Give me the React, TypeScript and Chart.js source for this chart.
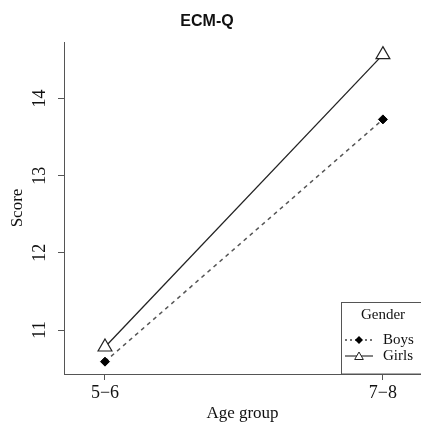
import React, { useEffect, useRef } from 'react';
import { Chart, registerables } from 'chart.js';

Chart.register(...registerables);

const categories = ['5−6', '7−8'];
const xPositions = [1, 2];
const boys = [10.59, 13.73];
const girls = [10.78, 14.57];
const yTicks = [11, 12, 13, 14];
const seriesNames = ['Boys', 'Girls'];
const titleText = 'ECM-Q';
const xTitle = 'Age group';
const yTitle = 'Score';
const legendTitle = 'Gender';

const SERIF = '"Liberation Serif", "Times New Roman", serif';
const SANS = '"Liberation Sans", Arial, sans-serif';

const titlePlugin = {
  id: 'rTitle',
  afterDraw(chart: any) {
    const ctx = chart.ctx;
    ctx.save();
    ctx.font = `bold 16px ${SANS}`;
    ctx.fillStyle = '#111';
    ctx.textAlign = 'center';
    ctx.textBaseline = 'middle';
    ctx.fillText(titleText, 207, 22);
    ctx.restore();
  },
};

function drawDiamond(ctx: CanvasRenderingContext2D, x: number, y: number, r: number) {
  ctx.beginPath();
  ctx.moveTo(x, y - r);
  ctx.lineTo(x + r, y);
  ctx.lineTo(x, y + r);
  ctx.lineTo(x - r, y);
  ctx.closePath();
  ctx.fillStyle = '#000';
  ctx.fill();
}

function drawTriangle(ctx: CanvasRenderingContext2D, x: number, y: number, r: number) {
  ctx.beginPath();
  for (let i = 0; i < 3; i++) {
    const a = (i * 2 * Math.PI) / 3;
    const px = x + Math.sin(a) * r;
    const py = y - Math.cos(a) * r;
    if (i === 0) ctx.moveTo(px, py);
    else ctx.lineTo(px, py);
  }
  ctx.closePath();
  ctx.fillStyle = '#fff';
  ctx.fill();
  ctx.strokeStyle = '#222';
  ctx.lineWidth = 1;
  ctx.stroke();
}

const legendPlugin = {
  id: 'rLegend',
  afterDraw(chart: any) {
    const ctx = chart.ctx;
    const { right, bottom } = chart.chartArea;
    const bx = 341.5;
    const by = 302.5;
    ctx.save();
    ctx.fillStyle = '#fff';
    ctx.fillRect(bx, by, right - bx + 5, bottom - by);
    ctx.strokeStyle = '#555';
    ctx.lineWidth = 1;
    ctx.strokeRect(bx, by, right - bx + 5, bottom - by);

    ctx.fillStyle = '#111';
    ctx.font = `15px ${SERIF}`;
    ctx.textAlign = 'center';
    ctx.textBaseline = 'middle';
    ctx.fillText(legendTitle, 383, 315);

    const rows = [340, 356];
    // Boys
    ctx.strokeStyle = '#444';
    ctx.lineWidth = 1.4;
    ctx.setLineDash([2, 3]);
    ctx.beginPath();
    ctx.moveTo(345, rows[0]);
    ctx.lineTo(373, rows[0]);
    ctx.stroke();
    ctx.setLineDash([]);
    drawDiamond(ctx, 359, rows[0], 4);
    // Girls
    ctx.strokeStyle = '#333';
    ctx.lineWidth = 1.2;
    ctx.beginPath();
    ctx.moveTo(345, rows[1]);
    ctx.lineTo(373, rows[1]);
    ctx.stroke();
    drawTriangle(ctx, 359, rows[1] + 1, 5);

    ctx.fillStyle = '#111';
    ctx.textAlign = 'left';
    ctx.font = `15px ${SERIF}`;
    ctx.fillText(seriesNames[0], 383, rows[0]);
    ctx.fillText(seriesNames[1], 383, rows[1]);
    ctx.restore();
  },
};

export default function App() {
  const ref = useRef<HTMLCanvasElement | null>(null);

  useEffect(() => {
    document.body.style.margin = '0';
    const canvas = ref.current;
    if (!canvas) return;
    const chart = new Chart(canvas, {
      type: 'line',
      data: {
        datasets: [
          {
            label: seriesNames[0],
            data: xPositions.map((x, i) => ({ x, y: boys[i] })),
            borderColor: '#555',
            borderWidth: 1.5,
            borderDash: [4, 4],
            pointStyle: 'rectRot',
            pointRadius: 4.5,
            pointBackgroundColor: '#000',
            pointBorderColor: '#000',
            pointBorderWidth: 1,
            fill: false,
            tension: 0,
          },
          {
            label: seriesNames[1],
            data: xPositions.map((x, i) => ({ x, y: girls[i] })),
            borderColor: '#222',
            borderWidth: 1.3,
            pointStyle: 'triangle',
            pointRadius: 8,
            pointBackgroundColor: '#fff',
            pointBorderColor: '#222',
            pointBorderWidth: 1.2,
            fill: false,
            tension: 0,
          },
        ],
      },
      options: {
        responsive: false,
        animation: false,
        devicePixelRatio: 1,
        clip: false as any,
        layout: { autoPadding: false, padding: { top: 42, left: 0, right: 0, bottom: 0 } },
        plugins: {
          legend: { display: false },
          tooltip: { enabled: false },
          title: { display: false },
        },
        scales: {
          x: {
            type: 'linear',
            min: 0.8525,
            max: 2.137,
            afterBuildTicks: (s: any) => {
              s.ticks = xPositions.map((v) => ({ value: v }));
            },
            afterFit: (s: any) => {
              s.height = 54;
            },
            ticks: {
              callback: (v: any) => categories[xPositions.indexOf(Number(v))],
              font: { family: SERIF, size: 18 },
              color: '#111',
              padding: 2,
              maxRotation: 0,
              minRotation: 0,
              autoSkip: false,
            },
            grid: {
              display: true,
              drawOnChartArea: false,
              drawTicks: true,
              tickLength: 6,
              color: '#555',
            },
            border: { display: true, color: '#555', width: 1 },
            title: {
              display: true,
              text: xTitle,
              font: { family: SERIF, size: 17 },
              color: '#111',
              padding: { top: 0, bottom: 4 },
            },
          },
          y: {
            type: 'linear',
            min: 10.43,
            max: 14.733,
            afterBuildTicks: (s: any) => {
              s.ticks = yTicks.map((v) => ({ value: v }));
            },
            afterFit: (s: any) => {
              s.width = 64;
            },
            ticks: {
              font: { family: SERIF, size: 18 },
              color: '#111',
              padding: 9,
              minRotation: 90,
              maxRotation: 90,
              crossAlign: 'center',
              autoSkip: false,
            },
            grid: {
              display: true,
              drawOnChartArea: false,
              drawTicks: true,
              tickLength: 6,
              color: '#555',
            },
            border: { display: true, color: '#555', width: 1 },
            title: {
              display: true,
              text: yTitle,
              font: { family: SERIF, size: 17 },
              color: '#111',
              padding: { top: 7, bottom: 0 },
            },
          },
        },
      } as any,
      plugins: [titlePlugin, legendPlugin],
    });
    return () => chart.destroy();
  }, []);

  return (
    <div style={{ width: 421, height: 428 }}>
      <canvas ref={ref} width={421} height={428} style={{ display: 'block' }} />
    </div>
  );
}
